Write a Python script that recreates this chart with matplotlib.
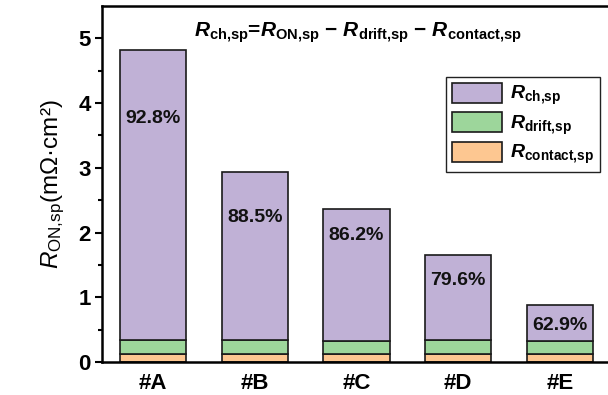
import matplotlib
matplotlib.use("Agg")
import matplotlib.pyplot as plt
import numpy as np

plt.rcParams["font.family"] = ["Liberation Sans", "DejaVu Sans"]
plt.rcParams["mathtext.fontset"] = "custom"
plt.rcParams["mathtext.rm"] = "Liberation Sans"
plt.rcParams["mathtext.it"] = "Liberation Sans:italic"
plt.rcParams["mathtext.bf"] = "Liberation Sans:bold"
plt.rcParams["mathtext.bfit"] = "Liberation Sans:italic:bold"

# Devices and specific on-resistance breakdown (mΩ·cm²)
devices = ["#A", "#B", "#C", "#D", "#E"]
r_contact = [0.13, 0.13, 0.13, 0.13, 0.13]
r_drift = [0.217, 0.207, 0.197, 0.207, 0.196]
ch_share = [92.8, 88.5, 86.2, 79.6, 62.9]   # channel share of R_ON,sp (%)

contact = np.array(r_contact)
drift = np.array(r_drift)
share = np.array(ch_share) / 100.0
# channel part follows from its share of the total
ch = (contact + drift) * share / (1.0 - share)
total = contact + drift + ch

c_ch = "#C0B1D6"
c_drift = "#9DD69B"
c_contact = "#FDC791"


def rsub(sub):
    """Bold-italic R with a bold subscript, commas kept tight."""
    return r"$\mathbfit{R}_{\mathbf{" + sub.replace(",", "{,}") + r"}}$"


fig = plt.figure(figsize=(6.08, 3.95), dpi=100)
ax = fig.add_axes([102 / 608, 1 - 362 / 395, (611 - 102) / 608, (362 - 6) / 395])

x = np.arange(len(devices))
w = 0.65
kw = dict(width=w, edgecolor="#1a1a1a", linewidth=1.2)
ax.bar(x, contact, color=c_contact, label=rsub("contact,sp"), **kw)
ax.bar(x, drift, bottom=contact, color=c_drift, label=rsub("drift,sp"), **kw)
ax.bar(x, ch, bottom=contact + drift, color=c_ch, label=rsub("ch,sp"), **kw)

# percentage labels inside the channel segment
drop_px = [68, 45, 27, 25, 20]
for xi, t, s, d in zip(x, total, ch_share, drop_px):
    ax.annotate(f"{s:.1f}%", xy=(xi, t), xytext=(0, -d * 0.72),
                textcoords="offset points", ha="center", va="center",
                fontsize=14, fontweight="bold", color="#111111")

ax.set_xlim(-0.5, 4.5)
ax.set_ylim(0, 5.5)
ax.set_xticks(x)
ax.set_xticklabels(devices, fontsize=16, fontweight="bold")
ax.set_yticks([0, 1, 2, 3, 4, 5])
ax.set_yticks(np.arange(0.5, 5.5, 1.0), minor=True)
for lab in ax.get_yticklabels():
    lab.set_fontweight("bold")
    lab.set_fontsize(16)
ax.tick_params(axis="y", which="major", direction="out", length=5, width=1.5, pad=3)
ax.tick_params(axis="y", which="minor", direction="out", length=3, width=1.5)
ax.tick_params(axis="x", which="major", length=0, pad=8)
for sp in ax.spines.values():
    sp.set_linewidth(1.8)

ax.set_ylabel(r"$\mathit{R}_{\mathrm{ON{,}sp}}$(mΩ·cm²)", fontsize=17.5, labelpad=8)

title = (rsub("ch,sp") + "=" + rsub("ON,sp") + " − " + rsub("drift,sp")
         + " − " + rsub("contact,sp"))
fig.text(358 / 608, 1 - 33 / 395, title, ha="center", va="center",
         fontsize=15, fontweight="bold")

handles, labels = ax.get_legend_handles_labels()
leg = ax.legend(handles[::-1], labels[::-1], loc="upper right",
                bbox_to_anchor=(600 / 608, 1 - 77 / 395), bbox_transform=fig.transFigure,
                borderaxespad=0, fontsize=14, frameon=True, fancybox=False,
                edgecolor="#222222", framealpha=1, handlelength=2.6, handleheight=1.2,
                labelspacing=0.25, handletextpad=0.4, borderpad=0.3)
leg.get_frame().set_linewidth(1.0)

fig.savefig("out.png", dpi=100)
